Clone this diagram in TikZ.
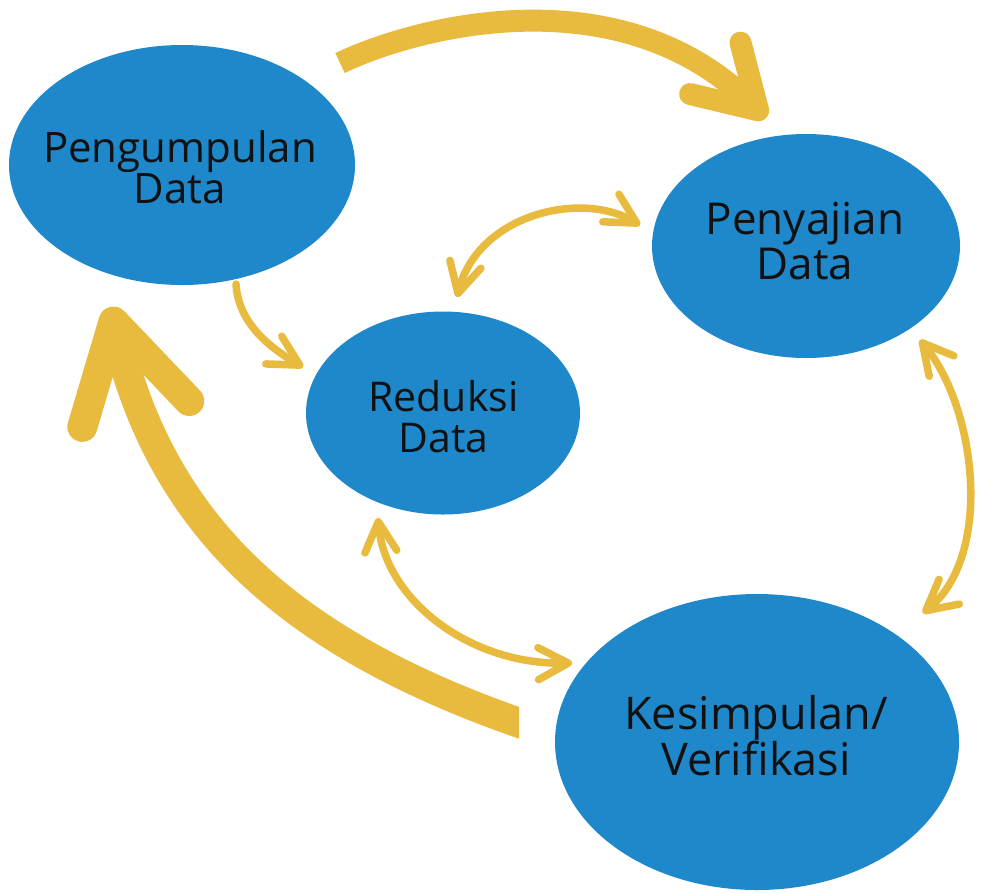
\documentclass[tikz,border=0pt]{standalone}
\usepackage{fontspec}
\setmainfont{Open Sans}
\usetikzlibrary{arrows.meta,shapes.geometric}
\definecolor{nodeblue}{HTML}{1F88CA}
\definecolor{arrowgold}{HTML}{E8BB3F}
\definecolor{txtcol}{HTML}{111111}
\begin{document}
\begin{tikzpicture}[x=1pt,y=-1pt,
  blob/.style={ellipse, fill=nodeblue, inner sep=0pt},
  label/.style={align=center, text=txtcol, inner sep=0pt},
  goldline/.style={draw=arrowgold, line cap=round, line join=round},
  smallarrow/.style={goldline, line width=7.5pt,
    arrows={-{Straight Barb[length=30pt,width=32pt,round]}}},
  smalldouble/.style={goldline, line width=7.5pt,
    arrows={{Straight Barb[length=30pt,width=32pt,round]}-{Straight Barb[length=30pt,width=32pt,round]}}},
]
\useasboundingbox (0,0) rectangle (981,892);
\fill[white] (0,0) rectangle (981,892);

% ellipses
\node[blob, minimum width=346pt, minimum height=240pt] (peng) at (182,165) {};
\node[blob, minimum width=308pt, minimum height=224pt] (penya) at (806,246) {};
\node[blob, minimum width=274pt, minimum height=203pt] (redu) at (443,413) {};
\node[blob, minimum width=404pt, minimum height=296pt] (kesim) at (757,742) {};

% texts
\node[label, font=\fontsize{42}{41}\selectfont] (pengT) at (180,167) {Pengumpulan\\Data};
\node[label, font=\fontsize{44}{45}\selectfont] (penyaT) at (805,241) {Penyajian\\Data};
\node[label, font=\fontsize{41}{41}\selectfont] (reduT) at (443.5,417) {Reduksi\\Data};
\node[label, font=\fontsize{45}{45}\selectfont] (kesimT) at (756,735.5) {Kesimpulan/\\Verifikasi};

% connector end points
\coordinate (topS) at (340,63);
\coordinate (topE) at (766,118);
\coordinate (leftS) at (540,730);
\coordinate (leftE) at (110,307);
\coordinate (pr1) at (236,284);
\coordinate (pr2) at (303,367);
\coordinate (rp1) at (457,297);
\coordinate (rp2) at (640,225);
\coordinate (pk1) at (920,340);
\coordinate (pk2) at (923,613);
\coordinate (rk1) at (378,518);
\coordinate (rk2) at (572,663);

% big arrows
\draw[goldline, line width=22pt, line cap=butt,
  arrows={-{Straight Barb[length=60pt,width=72pt,round]}}]
  (topS) .. controls (420,25) and (620,-25) .. (topE);
\begin{scope}
  \clip (0,0) rectangle (519,892);
  \draw[goldline, line width=30pt, line cap=butt,
    arrows={-{Straight Barb[length=95pt,width=110pt,round]}}]
    (leftS) .. controls (300,650) and (165,535) .. (leftE);
\end{scope}

% small arrows
\draw[smallarrow] (pr1) .. controls (238,320) and (265,345) .. (pr2);
\draw[smalldouble] (rp1) .. controls (478,215) and (580,190) .. (rp2);
\draw[smalldouble] (pk1) .. controls (977,409) and (993,556) .. (pk2);
\draw[smalldouble] (rk1) .. controls (385,600) and (470,665) .. (rk2);
\end{tikzpicture}
\end{document}
